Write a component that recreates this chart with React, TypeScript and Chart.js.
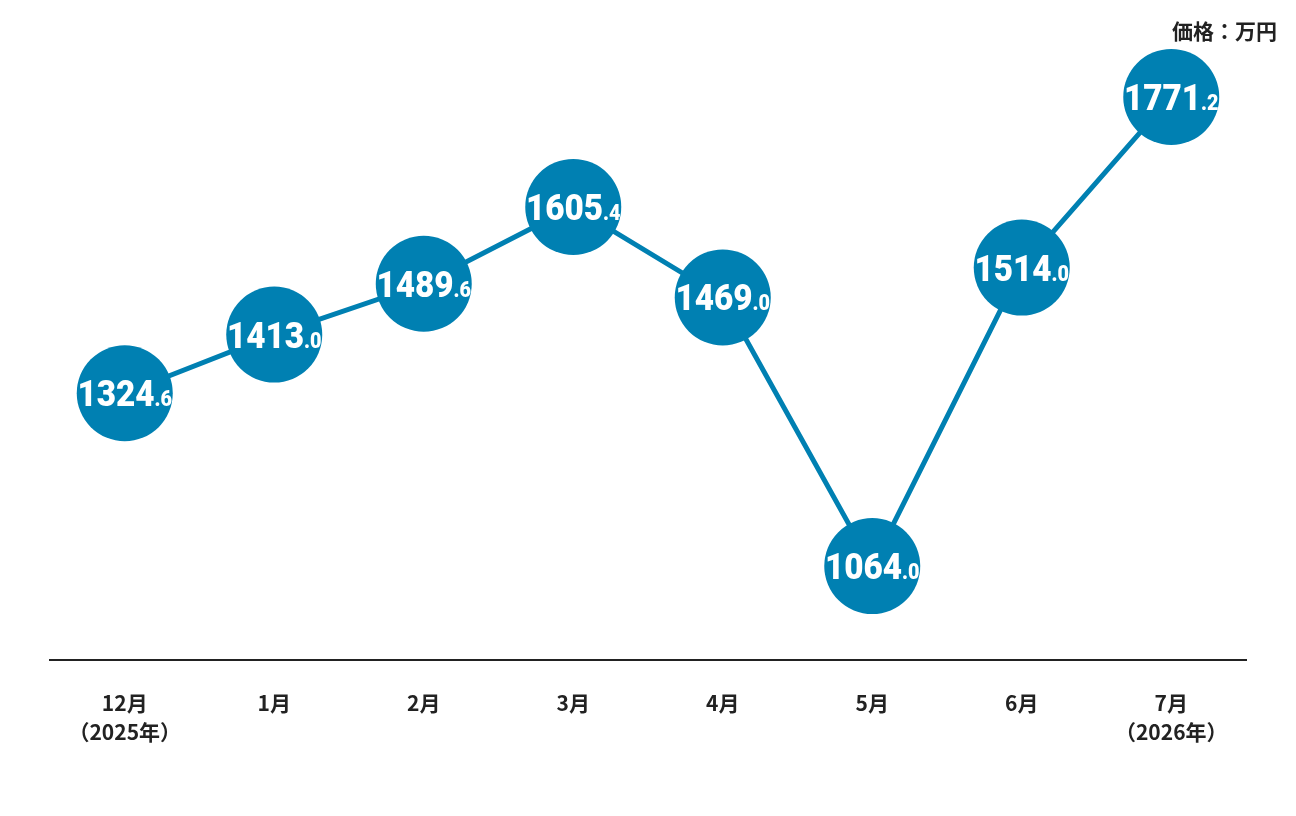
import React, { useEffect, useRef } from "react";
import { Chart, registerables } from "chart.js";

Chart.register(...registerables);

const categories: (string | string[])[] = [
  ["12月", "（2025年）"],
  "1月",
  "2月",
  "3月",
  "4月",
  "5月",
  "6月",
  ["7月", "（2026年）"],
];
const prices: number[] = [1324.6, 1413.0, 1489.6, 1605.4, 1469.0, 1064.0, 1514.0, 1771.2];
const unitLabel = "価格：万円";

const BLUE = "#0080b2";

const labelPlugin = {
  id: "circleLabels",
  afterDatasetsDraw(chart: any) {
    const ctx = chart.ctx as CanvasRenderingContext2D;
    const meta = chart.getDatasetMeta(0);
    const r = 48;
    const sx = 0.9;
    meta.data.forEach((pt: any, i: number) => {
      const v = prices[i];
      const s = v.toFixed(1);
      const [ip, dp] = s.split(".");
      const bigFont = "900 37px Roboto, 'Liberation Sans', sans-serif";
      const smallFont = "900 22px Roboto, 'Liberation Sans', sans-serif";
      ctx.save();
      ctx.font = bigFont;
      const w1 = ctx.measureText(ip).width;
      ctx.font = smallFont;
      const w2 = ctx.measureText("." + dp).width;
      const total = (w1 + w2) * sx;
      const x0 = pt.x - total / 2;
      const base = pt.y + 13;
      ctx.beginPath();
      ctx.rect(pt.x - r, pt.y - r, r * 2, r * 2);
      ctx.clip();
      ctx.translate(x0, base);
      ctx.scale(sx, 1);
      ctx.fillStyle = "#ffffff";
      ctx.textAlign = "left";
      ctx.textBaseline = "alphabetic";
      ctx.font = bigFont;
      ctx.fillText(ip, 0, 0);
      ctx.font = smallFont;
      ctx.fillText("." + dp, w1, 0);
      ctx.restore();
    });
    ctx.save();
    ctx.font = "bold 21px 'Noto Sans CJK JP', sans-serif";
    ctx.fillStyle = "#222222";
    ctx.textAlign = "right";
    ctx.textBaseline = "middle";
    ctx.fillText(unitLabel, 1277, 31);
    ctx.restore();
  },
};

export default function App() {
  const ref = useRef<HTMLCanvasElement | null>(null);
  useEffect(() => {
    document.body.style.margin = "0";
    if (!ref.current) return;
    const chart = new Chart(ref.current, {
      type: "line",
      data: {
        labels: categories as any,
        datasets: [
          {
            data: prices,
            borderColor: BLUE,
            borderWidth: 5,
            backgroundColor: BLUE,
            pointBackgroundColor: BLUE,
            pointBorderColor: BLUE,
            pointRadius: 48,
            pointHoverRadius: 48,
            pointBorderWidth: 0,
            tension: 0,
            clip: false as any,
          },
        ],
      },
      options: {
        animation: false,
        responsive: false,
        maintainAspectRatio: false,
        events: [],
        layout: { padding: { left: 50, right: 50, top: 50, bottom: 41 } },
        plugins: {
          legend: { display: false },
          tooltip: { enabled: false },
        },
        scales: {
          x: {
            type: "category",
            offset: true,
            grid: { display: false, drawTicks: false },
            border: { display: true, color: "#222222", width: 2 },
            ticks: {
              color: "#222222",
              padding: 29,
              maxRotation: 0,
              autoSkip: false,
              font: { family: "'Noto Sans CJK JP', sans-serif", size: 21, weight: "bold", lineHeight: 1.35 },
            },
          },
          y: {
            display: false,
            min: 922,
            max: 1842,
          },
        },
      },
      plugins: [labelPlugin],
    });
    return () => chart.destroy();
  }, []);
  return <canvas ref={ref} width={1296} height={816} style={{ display: "block", width: 1296, height: 816 }} />;
}
